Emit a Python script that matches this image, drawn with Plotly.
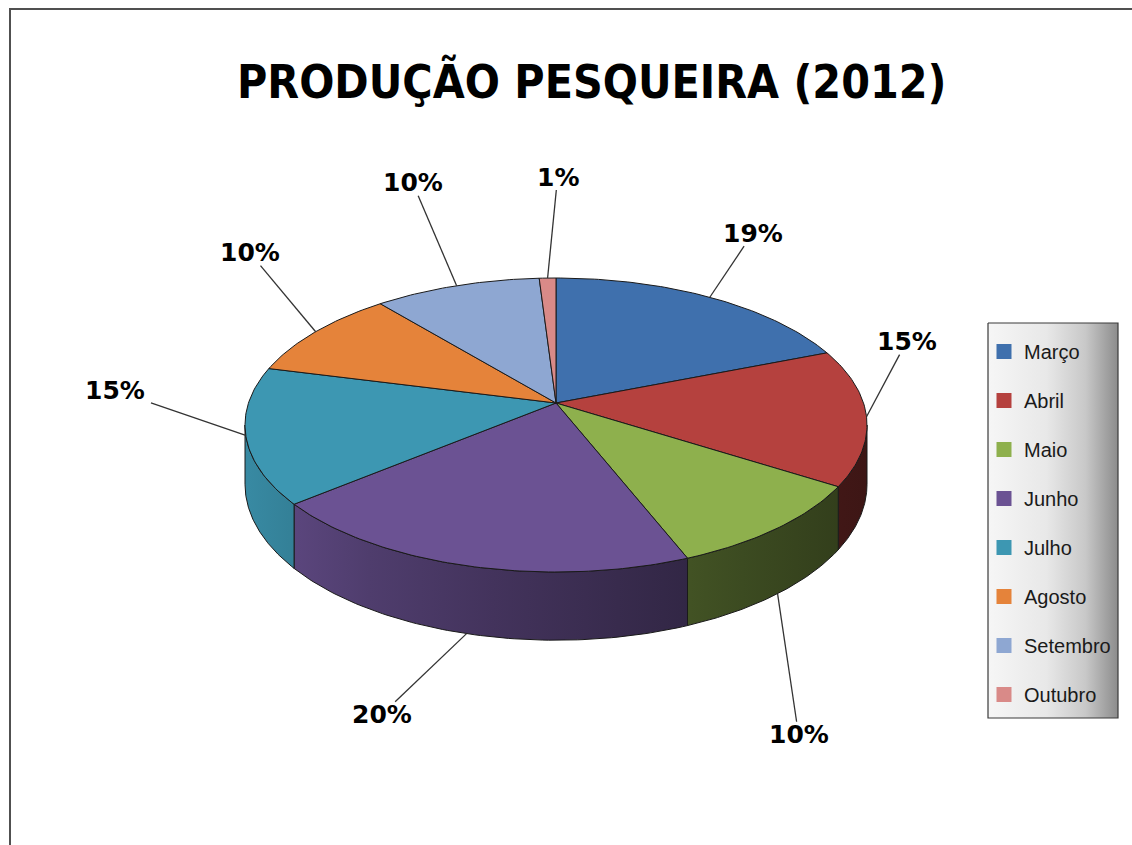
import numpy as np
import plotly.graph_objects as go

# ---------------- data ----------------
months = ["Março", "Abril", "Maio", "Junho", "Julho", "Agosto", "Setembro", "Outubro"]
values = [19, 15, 10, 20, 15, 10, 10, 1]
title_text = "PRODUÇÃO PESQUEIRA (2012)"

# ---------------- style / layout config ----------------
top_colors = ["#3F70AD", "#B5413E", "#8EB04D", "#6B5293", "#3D97B2", "#E5833A", "#8EA7D2", "#D98A88"]
# label displacement (px) from the leader anchor on the rim
label_shift = [(43, -64), (40, -75), (21, 141), (-85, 81), (-131, -45), (-66, -79), (-44, -103), (10, -101)]

W, H = 1132, 845
CX, CY = 556, 403          # pie vertex on screen
A, B, K = 307.5, 143.7, 0.1497   # ellipse half axes + perspective factor
DEPTH = 58                  # pie thickness


def proj(phi):
    u = np.sin(phi)
    v = np.cos(phi)
    d = 1 + K * v
    return CX + A * u / d, CY - B * v / d


def thick(phi):
    return DEPTH / (1 + K * np.cos(phi))


def hex2rgb(h):
    h = h.lstrip("#")
    return tuple(int(h[i:i + 2], 16) for i in (0, 2, 4))


def shade(h, f):
    r, g, b = hex2rgb(h)
    return "rgb(%d,%d,%d)" % (r * f, g * f, b * f)


fig = go.Figure()

total = float(sum(values))
fr = np.cumsum([0] + values) / total
starts = fr[:-1] * 2 * np.pi
ends = fr[1:] * 2 * np.pi

vis0 = np.arccos(-K)
vis1 = 2 * np.pi - vis0
x_left = CX - A / np.sqrt(1 - K * K)
x_right = CX + A / np.sqrt(1 - K * K)

# ---------- side faces (visible front part of rim) ----------
for i in range(len(values)):
    p0, p1 = max(starts[i], vis0), min(ends[i], vis1)
    if p1 <= p0:
        continue
    ph = np.linspace(p0, p1, 80)
    xt, yt = proj(ph)
    yb = yt + thick(ph)
    xs = np.concatenate([xt, xt[::-1], xt[:1]])
    ys = np.concatenate([yt, yb[::-1], yt[:1]])
    cs = [[t, shade(top_colors[i], 0.92 - 0.58 * t ** 0.75)] for t in np.linspace(0, 1, 6)]
    fig.add_trace(go.Scatter(
        x=xs, y=ys, mode="lines", fill="toself",
        line=dict(color="#1a1a1a", width=1),
        fillgradient=dict(type="horizontal", colorscale=cs, start=x_left, stop=x_right),
        hoverinfo="skip", showlegend=False))

# ---------- top faces ----------
for i in range(len(values)):
    ph = np.linspace(starts[i], ends[i], max(6, int(values[i] * 4)))
    xr, yr = proj(ph)
    xs = np.concatenate([[CX], xr, [CX]])
    ys = np.concatenate([[CY], yr, [CY]])
    fig.add_trace(go.Scatter(
        x=xs, y=ys, mode="lines", fill="toself", fillcolor=top_colors[i],
        line=dict(color="#1a1a1a", width=1),
        hoverinfo="text", text=f"{months[i]}: {values[i]}%", showlegend=False))

# ---------- labels + leader lines ----------
for i in range(len(values)):
    mid = (starts[i] + ends[i]) / 2
    ax, ay = proj(mid)
    if np.cos(mid) < -0.5:
        ay = ay + thick(mid)
    lx, ly = ax + label_shift[i][0], ay + label_shift[i][1]
    txt = f"{values[i] / total * 100:.0f}%"
    hw = 11 * len(txt) + 0.5
    hh = 12
    dx, dy = ax - lx, ay - ly
    t = min(hw / abs(dx) if dx else 1e9, hh / abs(dy) if dy else 1e9) * 1.08
    ex, ey = lx + dx * t, ly + dy * t
    fig.add_trace(go.Scatter(x=[ax, ex], y=[ay, ey], mode="lines",
                             line=dict(color="#333333", width=1.3),
                             hoverinfo="skip", showlegend=False))
    fig.add_annotation(x=lx, y=ly, xref="x", yref="y", text=f"<b>{txt}</b>",
                       showarrow=False, xanchor="center", yanchor="middle",
                       font=dict(family="DejaVu Sans", size=25, color="#000000"))

# ---------- legend background ----------
LX0, LX1, LY0, LY1 = 988, 1118, 323, 718
fig.add_trace(go.Scatter(
    x=[LX0, LX1, LX1, LX0, LX0], y=[LY0, LY0, LY1, LY1, LY0], mode="lines", fill="toself",
    line=dict(color="#3a3a3a", width=1.2),
    fillgradient=dict(type="horizontal",
                      colorscale=[[0, "#f6f6f6"], [0.45, "#e8e8e8"], [0.75, "#c8c8c8"], [1, "#8c8c8c"]],
                      start=LX0, stop=LX1),
    hoverinfo="skip", showlegend=False))

# ---------- legend entries ----------
for i, m in enumerate(months):
    fig.add_trace(go.Scatter(
        x=[None], y=[None], mode="markers", name=m, legendgroup=m,
        marker=dict(symbol="square", size=15, color=top_colors[i], line=dict(width=0))))

# ---------- title ----------
fig.add_annotation(x=591, y=81, xref="x", yref="y", text=f"<b>{title_text}</b>",
                   showarrow=False, xanchor="center", yanchor="middle",
                   font=dict(family="DejaVu Sans Condensed", size=46, color="#000000"))

# ---------- outer frame ----------
fig.add_shape(type="rect", xref="x", yref="y", x0=10, y0=9, x1=W + 30, y1=H + 30,
              line=dict(color="#505050", width=2), fillcolor="rgba(0,0,0,0)", layer="below")

fig.update_layout(
    width=W, height=H,
    margin=dict(l=0, r=0, t=0, b=0),
    paper_bgcolor="white", plot_bgcolor="white",
    xaxis=dict(range=[0, W], visible=False, fixedrange=True),
    yaxis=dict(range=[H, 0], visible=False, fixedrange=True),
    showlegend=True,
    legend=dict(x=984 / W, y=1 - 332 / H, xanchor="left", yanchor="top",
                bgcolor="rgba(0,0,0,0)", borderwidth=0,
                traceorder="grouped", tracegroupgap=20,
                font=dict(family="Liberation Sans, Arial", size=20, color="#1a1a1a")),
)

fig.write_html("out.html")
